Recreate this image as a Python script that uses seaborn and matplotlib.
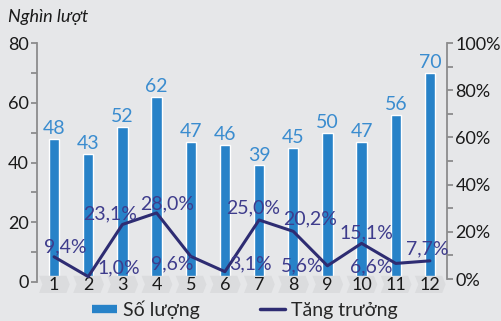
import numpy as np
import seaborn as sns
import matplotlib.pyplot as plt
from matplotlib.patches import Polygon
from matplotlib.lines import Line2D
import matplotlib.transforms as mtransforms

# Dữ liệu
thang = ["1", "2", "3", "4", "5", "6", "7", "8", "9", "10", "11", "12"]
so_luong = [48, 43, 52, 62, 47, 46, 39, 45, 50, 47, 56, 70]
tang_truong = [9.4, 1.0, 23.1, 28.0, 9.6, 3.1, 25.0, 20.2, 5.6, 15.1, 6.6, 7.7]
nhan_tang_truong = ["9,4%", "1,0%", "23,1%", "28,0%", "9,6%", "3,1%",
                    "25,0%", "20,2%", "5,6%", "15,1%", "6,6%", "7,7%"]
# vị trí nhãn (pixel, tính từ chân chữ) so với điểm
lech_nhan = [(11, 4), (31, 3), (-12, 5), (11, 4), (-18, -13), (26, 2),
             (-6, 7), (17, 7), (-25, -6), (5, 5), (-24, -9), (-3, 6)]

BG = "#e6e7e9"
XANH = "#2782c8"
XANH_CHU = "#3a8ccf"
TIM = "#2e2c72"
TIM_CHU = "#3e3c8c"
XAM = "#8c8c8c"

sns.set_theme(style="white")
plt.rcParams["font.family"] = ["Lato", "DejaVu Sans"]

fig = plt.figure(figsize=(5.02, 3.21), dpi=100, facecolor=BG)
ax = fig.add_axes([37 / 502, 39 / 321, 410 / 502, 239 / 321])
ax.set_facecolor(BG)
ax.set_axisbelow(False)

sns.barplot(x=thang, y=so_luong, ax=ax, color=XANH, width=0.3,
            saturation=1, zorder=1)
ax.bar_label(ax.containers[0], padding=1, color=XANH_CHU, fontsize=14)

ax.set_xlim(-0.5, 11.5)
ax.set_ylim(0, 80)
ax.set_yticks([0, 20, 40, 60, 80])
ax.set_yticks([10, 30, 50, 70], minor=True)
ax.set_xlabel("")
ax.set_ylabel("")
ax.tick_params(axis="y", which="both", left=True, direction="out", length=4,
               color=XAM, width=1.3, labelsize=13, labelcolor="#1a1a1a", pad=2)
ax.tick_params(axis="x", length=0, labelsize=13, labelcolor="#1a1a1a", pad=-3.8)
for s in ["top", "right", "bottom"]:
    ax.spines[s].set_visible(False)
ax.spines["left"].set_color(XAM)
ax.spines["left"].set_linewidth(1.3)

# dải mũi tên dưới nhãn tháng
trans = mtransforms.blended_transform_factory(ax.transData, ax.transAxes)
y0, y1 = -0.046, 0.026
ym = (y0 + y1) / 2
for i in range(len(thang)):
    pts = [(i - 0.44, y1), (i + 0.36, y1), (i + 0.46, ym), (i + 0.36, y0),
           (i - 0.44, y0), (i - 0.34, ym)]
    ax.add_patch(Polygon(pts, closed=True, transform=trans, facecolor="#dbdcde",
                         edgecolor="none", zorder=1.2, clip_on=False))

# trục phải: tăng trưởng
ax2 = fig.add_axes([37 / 502, 42 / 321, 410 / 502, 236 / 321], sharex=ax)
ax2.patch.set_visible(False)
x_line = np.arange(len(thang))
sns.lineplot(x=x_line, y=tang_truong, ax=ax2, color=TIM, linewidth=2.2)
ax2.set_ylim(0, 100)
ax2.set_xlim(-0.5, 11.5)
ax2.yaxis.tick_right()
ax2.set_yticks([0, 20, 40, 60, 80, 100])
ax2.set_yticks([10, 30, 50, 70, 90], minor=True)
ax2.set_yticklabels([f"{v}%" for v in [0, 20, 40, 60, 80, 100]])
ax2.tick_params(axis="y", which="both", right=True, left=False, direction="out",
                length=4, color=XAM, width=1.3, labelsize=13,
                labelcolor="#1a1a1a", pad=2)
ax2.tick_params(axis="x", bottom=False, labelbottom=False)
for s in ["top", "left", "bottom"]:
    ax2.spines[s].set_visible(False)
ax2.spines["right"].set_color(XAM)
ax2.spines["right"].set_linewidth(1.3)
ax2.set_ylabel("")
ax2.set_xlabel("")

for xi, v, txt, (dx, dy) in zip(x_line, tang_truong, nhan_tang_truong, lech_nhan):
    ax2.annotate(txt, (xi, v), xytext=(dx, dy), textcoords="offset pixels",
                 ha="center", va="baseline", color=TIM_CHU, fontsize=14)

fig.text(8 / 502, 1 - 17 / 321, "Nghìn lượt", ha="left", va="center",
         fontsize=13, style="italic", color="#1a1a1a")

handles = [Line2D([], [], color=XANH, lw=6, solid_capstyle="butt"),
           Line2D([], [], color=TIM, lw=2.5)]
fig.legend(handles, ["Số lượng", "Tăng trưởng"], loc="center",
           bbox_to_anchor=(245 / 502, 1 - 310 / 321), ncol=2, frameon=False,
           fontsize=14, handlelength=1.3, handletextpad=0.3, columnspacing=3.1)

fig.savefig("out.png", dpi=100, facecolor=BG)
